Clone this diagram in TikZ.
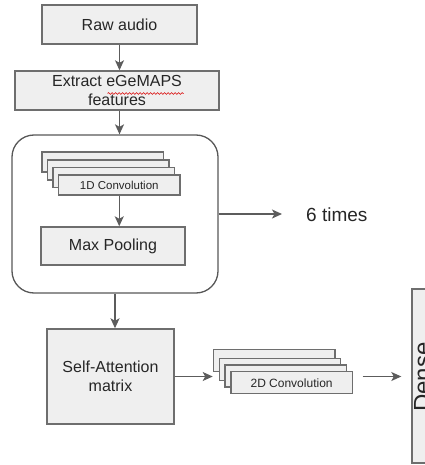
\documentclass[tikz,border=0pt]{standalone}
\usepackage{fontspec}
\setmainfont{Liberation Sans}
\usetikzlibrary{arrows.meta,decorations.pathmorphing}

\definecolor{boxfill}{HTML}{EFEFEF}
\definecolor{edge}{HTML}{6E6E6E}
\definecolor{arrowc}{HTML}{5C5C5C}
\definecolor{textc}{HTML}{262626}

\begin{document}
\begin{tikzpicture}[x=1pt,y=-1pt,
  box/.style={draw=edge, fill=boxfill, line width=1.4pt, inner sep=0pt,
    text=textc, align=center, font=\fontsize{16}{19}\selectfont},
  layer/.style={draw=edge, fill=boxfill, line width=1.3pt, inner sep=0pt,
    text=textc, minimum width=121.5pt},
  arr/.style={draw=arrowc, line width=1.3pt,
    -{Stealth[length=10pt,width=9pt,inset=2.5pt]}}
]
\useasboundingbox (0,0) rectangle (424,465);

% input stage
\node[box, minimum width=155pt, minimum height=39pt] (raw) at (119.5,24.5) {Raw audio};
\node[box, minimum width=204pt, minimum height=39pt] (ex) at (117,90.5) {Extract eGeMAPS\\features};
\draw[red!85!black, line width=0.6pt, decorate,
  decoration={snake, amplitude=0.9pt, segment length=3.5pt}] (107.5,93.5) -- (183.5,93.5);

% repeated convolution block
\node[draw=edge!80!black, fill=white, line width=1.3pt, rounded corners=22pt,
  minimum width=206pt, minimum height=158pt] (rep) at (115,214) {};
\node[layer, minimum height=20pt] (c1a) at (102.75,162) {};
\node[layer, minimum height=20pt] (c1b) at (108.25,170) {};
\node[layer, minimum height=20pt] (c1c) at (113.75,177.5) {};
\node[layer, minimum height=20pt, font=\fontsize{11.5}{13}\selectfont] (c1d) at (119.25,185) {1D Convolution};
\node[box, minimum width=144pt, minimum height=38pt] (mp) at (113,246) {Max Pooling};

\coordinate (tend) at (282,214);
\node[anchor=west, inner sep=0pt, text=textc, font=\fontsize{19}{22}\selectfont] (times) at (306,215) {6 times};

% attention and 2D convolution
\node[box, minimum width=127pt, minimum height=95pt] (sa) at (110.5,376.5) {Self-Attention\\matrix};
\node[layer, minimum height=22pt] (c2a) at (274.1,360.3) {};
\node[layer, minimum height=22pt] (c2b) at (280,369.3) {};
\node[layer, minimum height=22pt] (c2c) at (285.8,376) {};
\node[layer, minimum height=22pt, font=\fontsize{12}{14}\selectfont] (c2d) at (291.6,382.8) {2D Convolution};

\node[box, minimum width=40pt, minimum height=174pt] (dense) at (432,376) {};
\node[rotate=90, anchor=north, inner sep=0pt, text=textc,
  font=\fontsize{24}{28}\selectfont] (denselbl) at (414,377) {Dense};

% connectors
\draw[arr] (raw.south) -- (raw.south |- ex.north);
\draw[arr] (ex.south -| raw.south) -- (raw.south |- rep.north);
\draw[arr] (c1d.south) -- (c1d.south |- mp.north);
\draw[arr] (rep.east) -- (tend);
\draw[arr] (rep.south) -- (rep.south |- sa.north);
\draw[arr] (sa.east) -- (sa.east -| c2a.west);
\draw[arr, shorten <=9.5pt, shorten >=10pt] (c2d.east |- sa.east) -- (dense.west |- sa.east);
\end{tikzpicture}
\end{document}
